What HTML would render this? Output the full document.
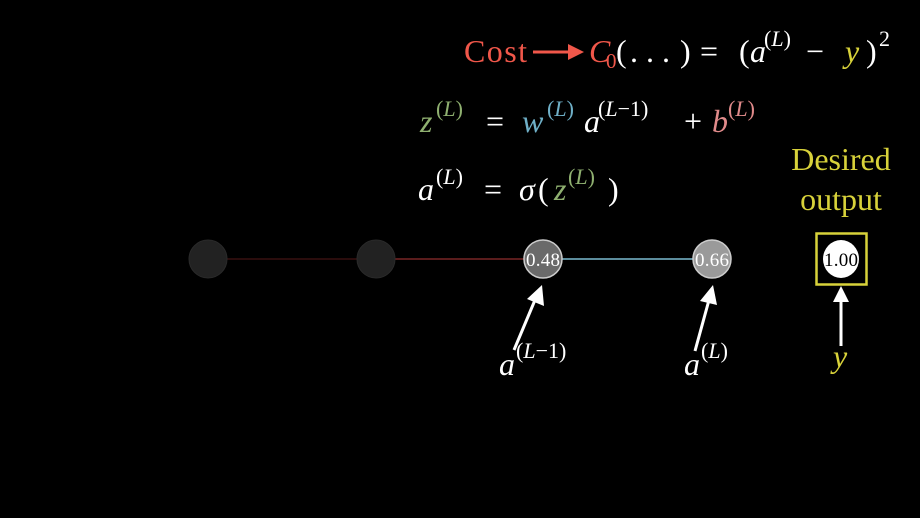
<!DOCTYPE html>
<html><head><meta charset="utf-8"><style>
html,body{margin:0;padding:0;background:#000;width:920px;height:518px;overflow:hidden}
svg text{font-family:"Liberation Serif",serif}
.i{font-style:italic}
</style></head><body>
<svg width="920" height="518" viewBox="0 0 920 518" xmlns="http://www.w3.org/2000/svg">
<rect width="920" height="518" fill="#000"/>
<!-- line 1 -->
<g font-size="32" fill="#fff">
<text x="464" y="62" fill="#f0574a" textLength="63">Cost</text>
<text x="589" y="62" class="i" fill="#f0574a">C</text>
<text x="606" y="68" font-size="21" fill="#f0574a">0</text>
<text x="616" y="62">(</text>
<text x="630" y="62">.</text><text x="646" y="62">.</text><text x="662" y="62">.</text>
<text x="680" y="62">)</text>
<text x="700" y="62">=</text>
<text x="739" y="62">(</text>
<text x="750" y="62" class="i">a</text>
<text x="764" y="46" font-size="22">(<tspan class="i">L</tspan>)</text>
<text x="806" y="62">−</text>
<text x="845" y="62" class="i" fill="#d8d23a">y</text>
<text x="866" y="62">)</text>
<text x="879" y="46" font-size="22">2</text>
</g>
<line x1="533" y1="52" x2="570" y2="52" stroke="#f0574a" stroke-width="3"/>
<polygon points="568,44 584,52 568,60" fill="#f0574a"/>
<!-- line 2 -->
<g font-size="32" fill="#fff">
<text x="420" y="132" class="i" fill="#8fb070">z</text>
<text x="436" y="116" font-size="22" fill="#8fb070">(<tspan class="i">L</tspan>)</text>
<text x="486" y="132">=</text>
<text x="522" y="132" class="i" fill="#6fb0c8">w</text>
<text x="547" y="116" font-size="22" fill="#6fb0c8">(<tspan class="i">L</tspan>)</text>
<text x="584" y="132" class="i">a</text>
<text x="598" y="116" font-size="22">(<tspan class="i">L</tspan>−1)</text>
<text x="684" y="132">+</text>
<text x="712" y="132" class="i" fill="#e08a8a">b</text>
<text x="728" y="116" font-size="22" fill="#e08a8a">(<tspan class="i">L</tspan>)</text>
</g>
<!-- line 3 -->
<g font-size="32" fill="#fff">
<text x="418" y="200" class="i">a</text>
<text x="436" y="184" font-size="22">(<tspan class="i">L</tspan>)</text>
<text x="484" y="200">=</text>
<text x="519" y="200" class="i">σ</text>
<text x="538" y="200">(</text>
<text x="554" y="200" class="i" fill="#8fb070">z</text>
<text x="568" y="184" font-size="22" fill="#8fb070">(<tspan class="i">L</tspan>)</text>
<text x="608" y="200">)</text>
</g>
<!-- desired output -->
<text x="841" y="170" font-size="32" fill="#d8d23a" text-anchor="middle">Desired</text>
<text x="841" y="210" font-size="32" fill="#d8d23a" text-anchor="middle">output</text>
<!-- connections -->
<line x1="208" y1="259" x2="376" y2="259" stroke="#2a0c0c" stroke-width="2"/>
<line x1="376" y1="259" x2="543" y2="259" stroke="#5a1c1c" stroke-width="2"/>
<line x1="543" y1="259" x2="712" y2="259" stroke="#5c8c9c" stroke-width="2"/>
<!-- nodes -->
<ellipse cx="208" cy="259" rx="19" ry="19" fill="#222" stroke="#2a2a2a"/>
<ellipse cx="376" cy="259" rx="19" ry="19" fill="#222" stroke="#2a2a2a"/>
<ellipse cx="543" cy="259" rx="19" ry="19" fill="#6a6a6a" stroke="#ccc" stroke-width="1.5"/>
<text x="543" y="266" font-size="19" fill="#fff" text-anchor="middle" textLength="34">0.48</text>
<ellipse cx="712" cy="259" rx="19" ry="19" fill="#9a9a9a" stroke="#ccc" stroke-width="1.5"/>
<text x="712" y="266" font-size="19" fill="#fff" text-anchor="middle" textLength="34">0.66</text>
<rect x="816.5" y="233.5" width="50" height="51" fill="none" stroke="#d8d23a" stroke-width="2.5"/>
<ellipse cx="841" cy="259" rx="18" ry="19" fill="#fff"/>
<text x="841" y="266" font-size="19" fill="#000" text-anchor="middle" textLength="34">1.00</text>
<!-- arrows -->
<line x1="514" y1="350" x2="535" y2="300" stroke="#fff" stroke-width="3"/>
<polygon points="542,285 544,306 527,299" fill="#fff"/>
<line x1="695" y1="351" x2="709" y2="300" stroke="#fff" stroke-width="3"/>
<polygon points="713,285 717,305 700,301" fill="#fff"/>
<line x1="841" y1="346" x2="841" y2="300" stroke="#fff" stroke-width="3"/>
<polygon points="841,286 849,302 833,302" fill="#fff"/>
<!-- labels -->
<text x="499" y="375" font-size="32" fill="#fff" class="i">a</text>
<text x="516" y="358" font-size="22" fill="#fff">(<tspan class="i">L</tspan>−1)</text>
<text x="684" y="375" font-size="32" fill="#fff" class="i">a</text>
<text x="701" y="358" font-size="22" fill="#fff">(<tspan class="i">L</tspan>)</text>
<text x="833" y="367" font-size="32" fill="#d8d23a" class="i">y</text>
</svg>
</body></html>
